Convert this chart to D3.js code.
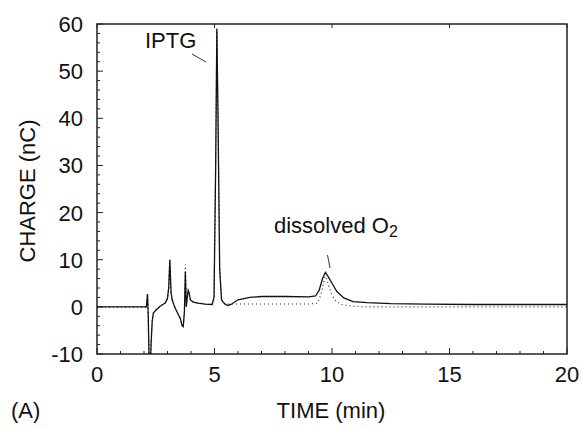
<!DOCTYPE html>
<html>
<head>
<meta charset="utf-8">
<script src="https://cdnjs.cloudflare.com/ajax/libs/d3/7.8.5/d3.min.js"></script>
<style>
  body { margin: 0; background: #fff; }
  text { font-family: "Liberation Sans", Arial, sans-serif; fill: #111; }
</style>
</head>
<body>
<div id="chart"></div>
<script>
// chart values

var xTicks = [0, 5, 10, 15, 20];
var yTicks = [-10, 0, 10, 20, 30, 40, 50, 60];

// solid trace
var solidTime = [0, 2.1, 2.15, 2.18, 2.22, 2.26, 2.3, 2.35, 2.4, 2.5, 2.7, 2.9, 3.0, 3.05, 3.1, 3.15, 3.2,
  3.3, 3.45, 3.55, 3.62, 3.67, 3.72, 3.76, 3.8, 3.84, 3.88, 3.92, 3.97, 4.1, 4.3, 4.6, 4.9, 4.98, 5.05,
  5.1, 5.15, 5.22, 5.3, 5.4, 5.55, 5.7, 6.0, 6.5, 7, 8, 9, 9.3, 9.45, 9.6, 9.72, 9.85, 10.0, 10.2, 10.5,
  10.9, 11.5, 12.5, 14, 16, 18, 20];
var solidCharge = [0, 0, 2.7, -2, -12, -14, -8, -3, -1.3, -0.7, 0.2, 0.8, 1.8, 4, 10, 3, 1.5,
  0, -1.5, -2.5, -4, -4.2, -1, 7.5, 0, 2, 3.5, 3, 1.5, 1, 0.8, 0.6, 0.5, 2, 30,
  59, 40, 8, 1.5, 0.8, 0.3, 0.5, 1.5, 2.0, 2.2, 2.2, 2.1, 2.3, 3.5, 6, 7.3, 6.3, 5, 3.3, 1.9,
  1.1, 0.9, 0.7, 0.6, 0.5, 0.5, 0.5];

// dotted trace
var dottedTime = [0, 2.1, 2.15, 2.18, 2.22, 2.26, 2.3, 2.35, 2.4, 2.5, 2.7, 2.9, 3.0, 3.05, 3.1, 3.15, 3.2,
  3.3, 3.45, 3.55, 3.62, 3.67, 3.72, 3.76, 3.8, 3.84, 3.88, 3.92, 3.97, 4.1, 4.3, 4.6, 4.9, 4.98, 5.05,
  5.1, 5.15, 5.22, 5.3, 5.4, 5.6, 6, 7, 8, 9, 9.4, 9.55, 9.7, 9.8, 9.95, 10.15, 10.4, 10.8, 11.3, 12, 14, 16, 18, 20];
var dottedCharge = [0, 0, 2.7, -2, -12, -14, -8, -3, -1.3, -0.7, 0.2, 0.8, 1.8, 4, 10, 3, 1.5,
  0, -1.5, -2.5, -4, -4.2, -1, 9, 0, 2, 3.5, 3, 1.5, 1, 0.8, 0.6, 0.5, 2, 30,
  59, 40, 8, 1.5, 0.6, 0.6, 0.6, 0.6, 0.6, 0.6, 0.8, 3, 6.5, 5.5, 3, 1.2, 0.5, 0.2, 0, 0, 0, 0, 0, 0];

var width = 582, height = 427;
var padL = 97, padR = 567, padT = 24, padB = 354;

var svg = d3.select("#chart").append("svg")
  .attr("width", width)
  .attr("height", height);

var x = d3.scaleLinear().domain([0, 20]).range([padL, padR]);
var y = d3.scaleLinear().domain([-10, 60]).range([padB, padT]);

svg.append("clipPath").attr("id", "clip")
  .append("rect")
  .attr("x", padL).attr("y", padT)
  .attr("width", padR - padL).attr("height", padB - padT);

// ticks, pointing inward
var g = svg.append("g").attr("stroke", "#222").attr("stroke-width", 1);

g.selectAll("line.xminor")
  .data(d3.range(0, 21, 1))
  .enter().append("line")
  .attr("x1", function(d) { return x(d); })
  .attr("x2", function(d) { return x(d); })
  .attr("y1", padB)
  .attr("y2", function(d) { return d % 5 == 0 ? padB - 6 : padB - 3; });

g.selectAll("line.xtop")
  .data(xTicks)
  .enter().append("line")
  .attr("x1", function(d) { return x(d); })
  .attr("x2", function(d) { return x(d); })
  .attr("y1", padT)
  .attr("y2", padT + 4);

g.selectAll("line.yminor")
  .data(d3.range(-10, 61, 2))
  .enter().append("line")
  .attr("y1", function(d) { return y(d); })
  .attr("y2", function(d) { return y(d); })
  .attr("x1", padL)
  .attr("x2", function(d) { return d % 10 == 0 ? padL + 6 : padL + 3; });

// frame
svg.append("rect")
  .attr("x", padL).attr("y", padT)
  .attr("width", padR - padL).attr("height", padB - padT)
  .attr("fill", "none")
  .attr("stroke", "#222")
  .attr("stroke-width", 1.5);

// tick labels
svg.selectAll("text.xt")
  .data(xTicks)
  .enter().append("text")
  .attr("x", function(d) { return x(d); })
  .attr("y", 382)
  .attr("text-anchor", "middle")
  .attr("font-size", 22)
  .text(function(d) { return d; });

svg.selectAll("text.yt")
  .data(yTicks)
  .enter().append("text")
  .attr("x", 83)
  .attr("y", function(d) { return y(d) + 8; })
  .attr("text-anchor", "end")
  .attr("font-size", 22)
  .text(function(d) { return d; });

// traces
var line = d3.line()
  .x(function(d) { return x(d[0]); })
  .y(function(d) { return y(d[1]); });

var plot = svg.append("g").attr("clip-path", "url(#clip)");

plot.append("path")
  .datum(d3.zip(dottedTime, dottedCharge))
  .attr("d", line)
  .attr("fill", "none")
  .attr("stroke", "#222")
  .attr("stroke-width", 1.1)
  .attr("stroke-dasharray", "1,3");

plot.append("path")
  .datum(d3.zip(solidTime, solidCharge))
  .attr("d", line)
  .attr("fill", "none")
  .attr("stroke", "#111")
  .attr("stroke-width", 1.3);

// annotations
svg.append("text")
  .attr("x", 145).attr("y", 48)
  .attr("font-size", 22)
  .text("IPTG");

svg.append("line")
  .attr("x1", 192).attr("y1", 54)
  .attr("x2", 206).attr("y2", 62)
  .attr("stroke", "#333").attr("stroke-width", 1);

var o2 = svg.append("text")
  .attr("x", 274).attr("y", 233)
  .attr("font-size", 22)
  .text("dissolved O");
o2.append("tspan")
  .attr("font-size", 16)
  .attr("dy", 4)
  .text("2");

svg.append("line")
  .attr("x1", 327.5).attr("y1", 255)
  .attr("x2", 330).attr("y2", 268)
  .attr("stroke", "#333").attr("stroke-width", 1);

// axis titles
svg.append("text")
  .attr("x", 331).attr("y", 418)
  .attr("text-anchor", "middle")
  .attr("font-size", 22)
  .text("TIME (min)");

svg.append("text")
  .attr("x", 11).attr("y", 418)
  .attr("font-size", 22)
  .text("(A)");

svg.append("text")
  .attr("transform", "translate(35,191) rotate(-90)")
  .attr("text-anchor", "middle")
  .attr("font-size", 22)
  .text("CHARGE (nC)");
</script>
</body>
</html>
